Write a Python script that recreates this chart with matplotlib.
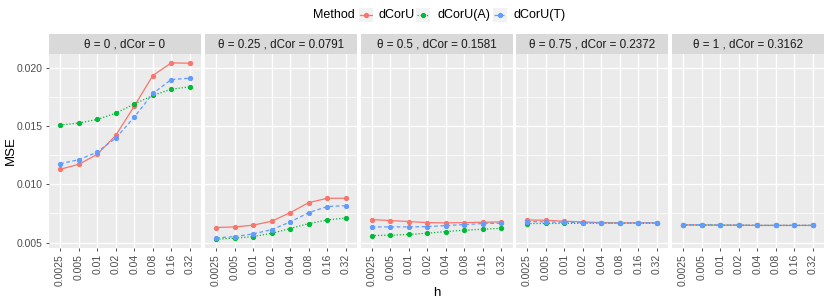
import matplotlib
matplotlib.use("Agg")
import matplotlib.pyplot as plt
import numpy as np

plt.rcParams['font.family'] = ['Liberation Sans', 'DejaVu Sans']

h_labels = ["0.0025", "0.005", "0.01", "0.02", "0.04", "0.08", "0.16", "0.32"]
panel_titles = ["θ = 0 , dCor = 0", "θ = 0.25 , dCor = 0.0791", "θ = 0.5 , dCor = 0.1581",
                "θ = 0.75 , dCor = 0.2372", "θ = 1 , dCor = 0.3162"]
methods = ["dCorU", "dCorU(A)", "dCorU(T)"]

dcorU = [
    [0.01129, 0.01171, 0.01257, 0.01420, 0.01671, 0.01934, 0.02043, 0.02040],
    [0.00629, 0.00634, 0.00649, 0.00683, 0.00757, 0.00843, 0.00880, 0.00880],
    [0.00697, 0.00689, 0.00680, 0.00671, 0.00669, 0.00671, 0.00674, 0.00677],
    [0.00694, 0.00691, 0.00683, 0.00677, 0.00671, 0.00669, 0.00669, 0.00669],
    [0.00651, 0.00651, 0.00649, 0.00649, 0.00647, 0.00647, 0.00647, 0.00647],
]
dcorU_A = [
    [0.01509, 0.01526, 0.01557, 0.01611, 0.01689, 0.01763, 0.01817, 0.01837],
    [0.00529, 0.00537, 0.00551, 0.00580, 0.00620, 0.00663, 0.00694, 0.00711],
    [0.00560, 0.00563, 0.00569, 0.00580, 0.00594, 0.00606, 0.00614, 0.00623],
    [0.00663, 0.00664, 0.00664, 0.00665, 0.00666, 0.00666, 0.00666, 0.00666],
    [0.00651, 0.00651, 0.00649, 0.00649, 0.00647, 0.00647, 0.00647, 0.00647],
]
dcorU_T = [
    [0.01177, 0.01211, 0.01277, 0.01397, 0.01577, 0.01780, 0.01900, 0.01911],
    [0.00540, 0.00551, 0.00574, 0.00611, 0.00677, 0.00757, 0.00809, 0.00817],
    [0.00634, 0.00634, 0.00634, 0.00637, 0.00646, 0.00654, 0.00663, 0.00666],
    [0.00680, 0.00677, 0.00674, 0.00671, 0.00669, 0.00666, 0.00669, 0.00669],
    [0.00651, 0.00651, 0.00649, 0.00649, 0.00647, 0.00647, 0.00647, 0.00647],
]
series = [dcorU, dcorU_A, dcorU_T]
colors = ["#F8766D", "#00BA38", "#619CFF"]
styles = ["-", (0, (1, 1.5)), (0, (3, 2))]

W, H = 830, 305
fig = plt.figure(figsize=(W / 100, H / 100), dpi=100)

panel_left = [49, 205, 360.5, 516, 672]
pw = 152
ptop, pbot = 54, 248
strip_top = 34

ymin, ymax = 0.00453, 0.02119
x = np.arange(len(h_labels))

for i in range(5):
    l = panel_left[i]
    ax = fig.add_axes([l / W, 1 - pbot / H, pw / W, (pbot - ptop) / H])
    ax.set_facecolor("#EBEBEB")
    for s in ax.spines.values():
        s.set_visible(False)
    ax.set_xlim(-0.6, 7.6)
    ax.set_ylim(ymin, ymax)
    for yv in [0.0075, 0.0125, 0.0175]:
        ax.axhline(yv, color="white", lw=0.5, zorder=0)
    ax.set_yticks([0.005, 0.010, 0.015, 0.020])
    ax.set_xticks(x)
    ax.grid(True, color="white", lw=1.0, zorder=0)
    ax.set_axisbelow(True)
    ax.set_xticklabels(h_labels, rotation=90, fontsize=7.5, color="#4D4D4D")
    ax.tick_params(axis="both", length=2.5, color="#333333", width=0.6, pad=2)
    if i == 0:
        ax.set_yticklabels(["0.005", "0.010", "0.015", "0.020"], fontsize=7.5, color="#4D4D4D")
        ax.set_ylabel("MSE", fontsize=9.5, labelpad=0)
    else:
        ax.tick_params(axis="y", left=False, labelleft=False)
    for j in range(3):
        ax.plot(x, series[j][i], color=colors[j], linestyle=styles[j], lw=0.9,
                marker="o", markersize=2.8, zorder=3)
    sax = fig.add_axes([l / W, 1 - ptop / H, pw / W, (ptop - strip_top) / H])
    sax.set_facecolor("#D9D9D9")
    sax.set_xticks([]); sax.set_yticks([])
    for s in sax.spines.values():
        s.set_visible(False)
    sax.text(0.5, 0.48, panel_titles[i], ha="center", va="center", fontsize=8.4, color="#1A1A1A",
             transform=sax.transAxes)

fig.text(437 / W, 1 - 293 / H, "h", ha="center", va="center", fontsize=9.5)

# legend
fig.text(313 / W, 1 - 15 / H, "Method", ha="left", va="center", fontsize=9)
keys = [(359, 378, "dCorU"), (416, 437, "dCorU(A)"), (493, 513, "dCorU(T)")]
for j, (kx, tx, lab) in enumerate(keys):
    kax = fig.add_axes([kx / W, 1 - 22 / H, 14 / W, 14 / H])
    kax.set_facecolor("#F2F2F2")
    kax.set_xlim(0, 1); kax.set_ylim(0, 1)
    kax.set_xticks([]); kax.set_yticks([])
    for s in kax.spines.values():
        s.set_visible(False)
    kax.plot([0.1, 0.9], [0.5, 0.5], color=colors[j], linestyle=styles[j], lw=0.9)
    kax.plot([0.5], [0.5], "o", color=colors[j], markersize=2.8)
    fig.text(tx / W, 1 - 15 / H, lab, ha="left", va="center", fontsize=9)

fig.savefig("out.png", dpi=100)
